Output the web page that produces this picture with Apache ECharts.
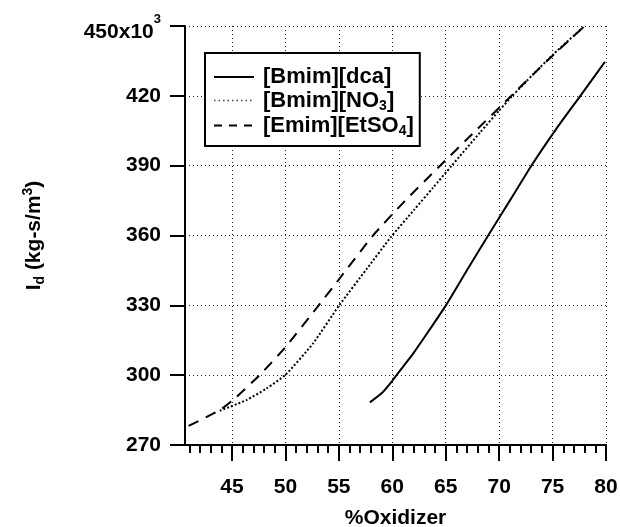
<!DOCTYPE html>
<html><head><meta charset="utf-8">
<script src="https://cdn.jsdelivr.net/npm/echarts@6/dist/echarts.min.js"></script>
<style>html,body{margin:0;padding:0;background:#fff}#c{width:620px;height:527px}</style>
</head><body><div id="c"></div>
<script>
const seriesNames = ['[Bmim][dca]', '[Bmim][NO3]', '[Emim][EtSO4]'];

const dcaX = [57.9, 59.0, 60.0, 61.0, 62.0, 63.5, 65.03, 67.0, 69.0, 71.03, 73.06, 75.3, 77.6, 79.9];
const dcaY = [288.3, 292.2, 297.6, 303.6, 309.6, 319.6, 330.1, 345.2, 360.2, 375.2, 390.3, 405.5, 420.0, 434.6];

const no3X = [43.85, 46.35, 48.2, 50.03, 52.59, 55.0, 57.6, 59.9, 62.0, 63.8, 65.56, 68.2, 70.1, 71.2, 73.2, 75.1, 77.9];
const no3Y = [284.7, 289.3, 294.2, 300.3, 313.7, 329.8, 345.6, 359.5, 370.8, 380.5, 390.0, 404.2, 414.2, 419.8, 429.3, 438.0, 449.6];

const etso4X = [40.94, 43.85, 45.09, 47.6, 50.03, 53.06, 55.1, 58.2, 60.9, 64.47, 67.8, 71.2, 74.6, 78.0];
const etso4Y = [278.2, 285.0, 289.3, 300.1, 312.2, 329.7, 341.7, 360.0, 373.5, 390.0, 405.0, 420.3, 435.5, 450.0];

const xMajorTicks = [45, 50, 55, 60, 65, 70, 75, 80];
const xMinorTicks = [41, 42, 43, 44, 45, 46, 47, 48, 49, 50, 51, 52, 53, 54, 55, 56, 57, 58, 59, 60,
  61, 62, 63, 64, 65, 66, 67, 68, 69, 70, 71, 72, 73, 74, 75, 76, 77, 78, 79, 80];
const yTickLabels = {270: '270', 300: '300', 330: '330', 360: '360', 390: '390', 420: '420', 450: '450x10'};

const FONT = '"Liberation Sans", Arial, Helvetica, sans-serif';

function pairs(xs, ys) { return xs.map((x, i) => [x, ys[i]]); }

function legendLabel(name) {
  if (name === '[Bmim][NO3]') return '{f|[Bmim][NO}{s|3}{t|]}';
  if (name === '[Emim][EtSO4]') return '{f|[Emim][EtSO}{s|4}{t|]}';
  return '{f|' + name + '}';
}

const chart = echarts.init(document.getElementById('c'), null, {renderer: 'canvas'});
const gridDot = {show: true, lineStyle: {color: '#222', width: 1, type: [1, 3]}};
const hiddenSym = {color: 'rgba(0,0,0,0)', borderWidth: 0, opacity: 0};

chart.setOption({
  animation: false,
  backgroundColor: '#fff',
  textStyle: {fontFamily: FONT, color: '#000'},
  grid: {left: 185, right: 14, top: 26, bottom: 82, containLabel: false, outerBoundsMode: 'none'},
  legend: {
    orient: 'vertical',
    left: 205, top: 53,
    padding: [13, 6, 8, 8],
    itemGap: 0,
    itemWidth: 40, itemHeight: 25,
    borderColor: '#000', borderWidth: 2,
    backgroundColor: '#fff',
    data: [
      {name: seriesNames[0], lineStyle: {type: 'solid', width: 2, color: '#000'}, itemStyle: hiddenSym},
      {name: seriesNames[1], lineStyle: {type: [1.5, 3], width: 1.5, color: '#444'}, itemStyle: hiddenSym},
      {name: seriesNames[2], lineStyle: {type: [8, 7], width: 2, color: '#000'}, itemStyle: hiddenSym}
    ],
    formatter: legendLabel,
    textStyle: {
      color: '#000', fontFamily: FONT,
      rich: {
        f: {fontSize: 22, fontWeight: 'bold', fontFamily: FONT, lineHeight: 25, padding: [0, 0, 0, 4], color: '#000'},
        t: {fontSize: 22, fontWeight: 'bold', fontFamily: FONT, lineHeight: 25, color: '#000'},
        s: {fontSize: 14, fontWeight: 'bold', fontFamily: FONT, lineHeight: 14, padding: [11, 0, 0, 0], color: '#000'}
      }
    }
  },
  xAxis: [
    {
      type: 'value', min: 40.6, max: 80, position: 'bottom',
      name: '%Oxidizer', nameLocation: 'middle', nameGap: 63,
      nameTextStyle: {fontSize: 21, fontWeight: 'bold', fontFamily: FONT, color: '#000'},
      axisLine: {show: true, lineStyle: {color: '#000', width: 2}},
      axisTick: {show: true, inside: false, length: 16, lineStyle: {color: '#000', width: 2}, customValues: xMajorTicks},
      axisLabel: {show: true, margin: 32, fontSize: 21, fontWeight: 'bold', fontFamily: FONT, color: '#000', customValues: xMajorTicks},
      splitLine: gridDot
    },
    {
      type: 'value', min: 40.6, max: 80, position: 'bottom',
      axisLine: {show: false},
      axisTick: {show: true, inside: false, length: 8, lineStyle: {color: '#000', width: 2}, customValues: xMinorTicks},
      axisLabel: {show: false},
      splitLine: {show: false}
    }
  ],
  yAxis: {
    type: 'value', min: 270, max: 450, interval: 30,
    name: '{a|I}{s|d}{a| (kg-s/m}{p|3}{a|)}', nameLocation: 'middle', nameGap: 140,
    nameTextStyle: {
      color: '#000',
      rich: {
        a: {fontSize: 21, fontWeight: 'bold', fontFamily: FONT, lineHeight: 22, color: '#000'},
        s: {fontSize: 14, fontWeight: 'bold', fontFamily: FONT, lineHeight: 14, padding: [12, 0, 0, 0], color: '#000'},
        p: {fontSize: 14, fontWeight: 'bold', fontFamily: FONT, lineHeight: 14, padding: [0, 0, 12, 0], color: '#000'}
      }
    },
    axisLine: {show: true, lineStyle: {color: '#000', width: 2}},
    axisTick: {show: true, inside: false, length: 15, lineStyle: {color: '#000', width: 2}},
    axisLabel: {
      margin: 24, color: '#000',
      formatter: function (v) {
        const t = yTickLabels[v];
        if (v === 450) return '{a|' + t + '}{p|3}';
        return '{b|' + t + '}';
      },
      rich: {
        a: {fontSize: 21, fontWeight: 'bold', fontFamily: FONT, lineHeight: 21, padding: [12, 0, 0, 0], color: '#000'},
        b: {fontSize: 21, fontWeight: 'bold', fontFamily: FONT, lineHeight: 21, color: '#000'},
        p: {fontSize: 13, fontWeight: 'bold', fontFamily: FONT, lineHeight: 13, padding: [0, 0, 14, 0], color: '#000'}
      }
    },
    splitLine: gridDot
  },
  series: [
    {
      name: seriesNames[0], type: 'line', xAxisIndex: 0, symbol: 'none', smooth: 0.2,
      lineStyle: {color: '#000', width: 2, type: 'solid'}, itemStyle: {color: '#000'},
      data: pairs(dcaX, dcaY)
    },
    {
      name: seriesNames[1], type: 'line', xAxisIndex: 0, symbol: 'none', smooth: 0.2,
      lineStyle: {color: '#000', width: 2, type: [2, 2]}, itemStyle: {color: '#000'},
      data: pairs(no3X, no3Y)
    },
    {
      name: seriesNames[2], type: 'line', xAxisIndex: 0, symbol: 'none', smooth: 0.2,
      lineStyle: {color: '#000', width: 2, type: [11, 8]}, itemStyle: {color: '#000'},
      data: pairs(etso4X, etso4Y)
    }
  ]
});
</script>
</body></html>
